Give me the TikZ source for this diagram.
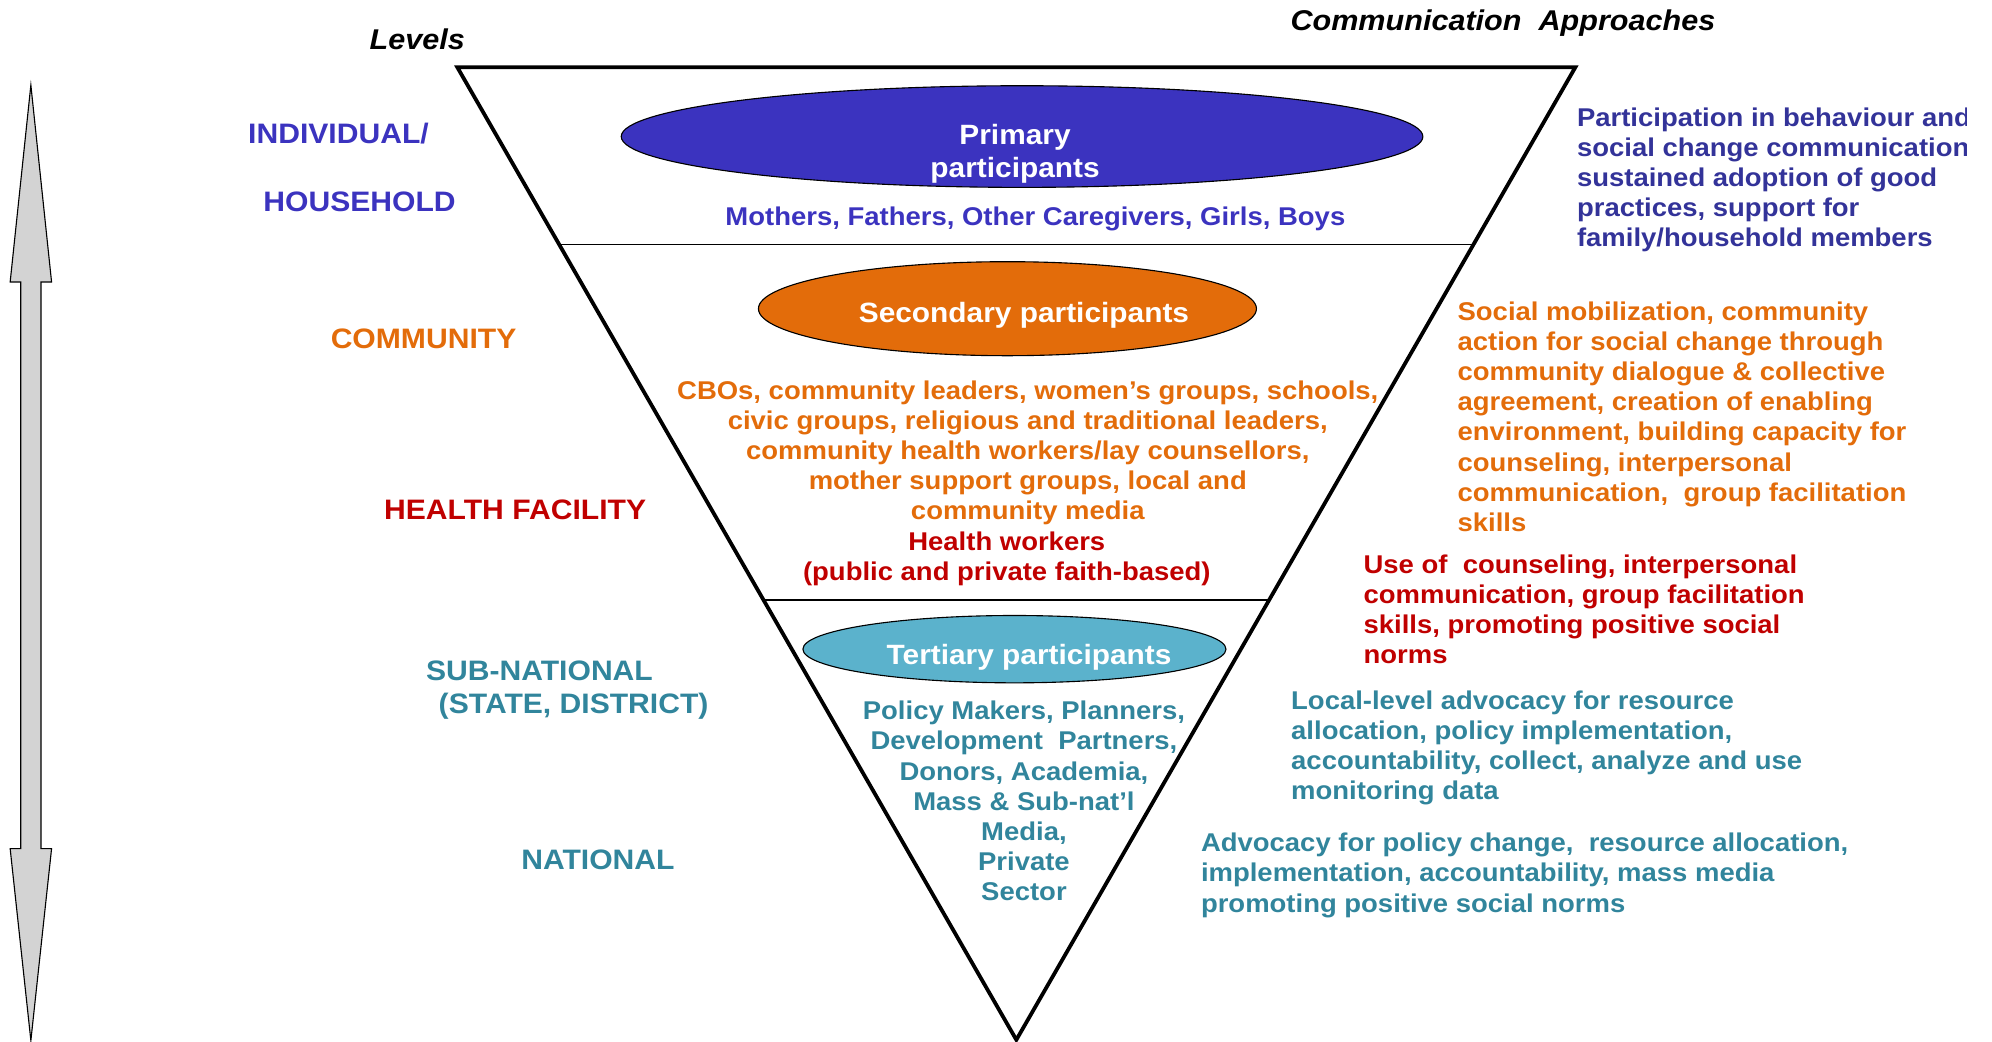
\documentclass[tikz,border=0pt]{standalone}
\usepackage{fontspec}
\setmainfont{Liberation Sans}[FakeStretch=1.07]
\usetikzlibrary{calc,positioning,shapes.geometric}
\definecolor{indblue}{RGB}{59,51,191}
\definecolor{apprblue}{RGB}{51,51,153}
\definecolor{commorange}{RGB}{227,108,10}
\definecolor{healthred}{RGB}{192,0,0}
\definecolor{natteal}{RGB}{49,133,156}
\definecolor{tertfill}{RGB}{91,178,204}
\definecolor{arrowgray}{RGB}{211,211,211}
\newcommand{\apprfont}{\fontsize{11.5}{13.5}\selectfont\bfseries}
\newcommand{\lvlfont}{\fontsize{12.6}{14.8}\selectfont\bfseries}
\newcommand{\ellfont}{\fontsize{12.5}{14.7}\selectfont\bfseries}
\newcommand{\hdfont}{\fontsize{12.8}{14}\selectfont\bfseries\itshape}
\tikzset{
	partic/.style={ellipse, draw=black, line width=0.5pt, inner sep=0pt},
	level/.style={font=\lvlfont, anchor=west, inner sep=0pt, align=left},
	approach/.style={font=\apprfont, anchor=west, inner sep=0pt, align=left},
	members/.style={font=\apprfont, inner sep=0pt, align=center},
	ptitle/.style={font=\ellfont, text=white, inner sep=0pt, align=center},
	heading/.style={font=\hdfont, inner sep=0pt},
}

\begin{document}
\begin{tikzpicture}
		\useasboundingbox (0,0) rectangle (31.36,16.4);
		\clip (0,0) rectangle (30.96,16.4);

		% level arrow
		\draw[fill=arrowgray, line width=0.5pt] (0.486,15.06) -- (0.812,11.96) -- (0.646,11.96)
			-- (0.646,3.04) -- (0.812,3.04) -- (0.486,0.02) -- (0.16,3.04) -- (0.326,3.04)
			-- (0.326,11.96) -- (0.16,11.96) -- cycle;

		% inverted triangle
		\coordinate (tl) at (7.2,15.34);
		\coordinate (tr) at (24.8,15.34);
		\coordinate (apex) at (16.0,0.03);
		\coordinate (d1l) at ($(tl)!0.1825!(apex)$);
		\coordinate (d1r) at ($(tr)!0.1825!(apex)$);
		\coordinate (d2l) at ($(tl)!0.5476!(apex)$);
		\coordinate (d2r) at ($(tr)!0.5476!(apex)$);
		\draw[line width=1.7pt] (tl) -- (tr) -- (apex) -- cycle;
		\draw[line width=0.6pt] (d1l) -- (d1r);
		\draw[line width=0.6pt] (d2l) -- (d2r);

		\node[heading] (lvlhead) at (6.57,15.78) {Levels};
		\node[heading] (apprhead) at (23.66,16.04) {Communication\ \ Approaches};

		% participants
		\node[partic, fill=indblue, minimum width=12.62cm, minimum height=1.6cm] (prim) at (16.09,14.25) {};
		\node[ptitle] (prim-t) at (15.98,13.98) {Primary\\participants};
		\node[members, text=indblue] (prim-m) at (16.3,12.96) {Mothers, Fathers, Other Caregivers, Girls, Boys};

		\node[partic, fill=commorange, minimum width=7.84cm, minimum height=1.48cm] (sec) at (15.86,11.54) {};
		\node[ptitle] (sec-t) at (16.12,11.44) {Secondary participants};
		\node[members, text=commorange] (sec-m) at (16.18,9.27) {CBOs, community leaders, women’s groups, schools,\\civic groups, religious and traditional leaders,\\community health workers/lay counsellors,\\mother support groups, local and\\community media};
		\node[members, text=healthred] (hw-m) at (15.85,7.6) {Health workers\\(public and private faith-based)};

		\node[partic, fill=tertfill, minimum width=6.66cm, minimum height=1.06cm] (tert) at (15.97,6.18) {};
		\node[ptitle] (tert-t) at (16.2,6.06) {Tertiary participants};
		\node[members, text=natteal] (tert-m) at (16.12,3.79) {Policy Makers, Planners,\\Development\ \ Partners,\\Donors, Academia,\\Mass \& Sub-nat’l\\Media,\\Private\\Sector};

		% levels
		\node[level, text=indblue] (ind) at (3.9,14.3) {INDIVIDUAL/};
		\node[level, text=indblue] (hh) at (4.14,13.22) {HOUSEHOLD};
		\node[level, text=commorange] (comm) at (5.2,11.06) {COMMUNITY};
		\node[level, text=healthred] (hf) at (6.04,8.38) {HEALTH FACILITY};
		\node[level, text=natteal] (subnat) at (6.7,5.54) {SUB-NATIONAL\\\hspace{0.2cm}(STATE, DISTRICT)};
		\node[level, text=natteal] (nat) at (8.2,2.86) {NATIONAL};

		% approaches
		\node[approach, text=apprblue] (a-ind) at (24.82,13.57) {Participation in behaviour and\\social change communication,\\sustained adoption of good\\practices, support for\\family/household members};
		\node[approach, text=commorange] (a-comm) at (22.94,9.84) {Social mobilization, community\\action for social change through\\community dialogue \& collective\\agreement, creation of enabling\\environment, building capacity for\\counseling, interpersonal\\communication,\ \ group facilitation\\skills};
		\node[approach, text=healthred] (a-hf) at (21.46,6.81) {Use of\ \ counseling, interpersonal\\communication, group facilitation\\skills, promoting positive social\\norms};
		\node[approach, text=natteal] (a-sub) at (20.32,4.63) {Local-level advocacy for resource\\allocation, policy implementation,\\accountability, collect, analyze and use\\monitoring data};
		\node[approach, text=natteal] (a-nat) at (18.9,2.62) {Advocacy for policy change,\ \ resource allocation,\\implementation, accountability, mass media\\promoting positive social norms};
	\end{tikzpicture}
\end{document}
